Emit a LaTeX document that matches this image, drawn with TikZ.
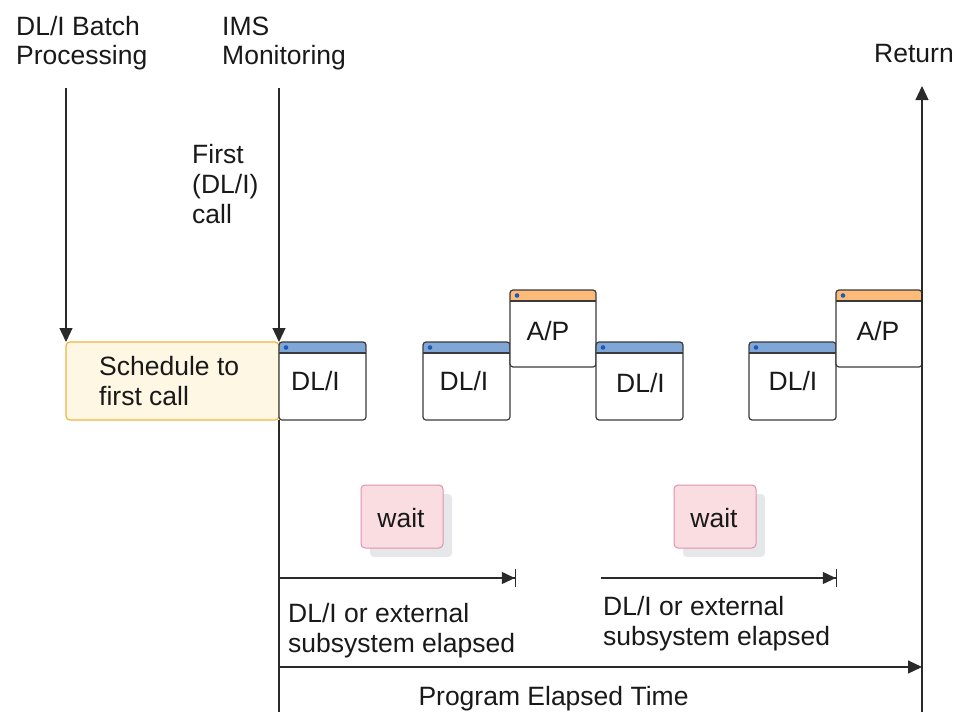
\documentclass[tikz,border=0pt]{standalone}
\usepackage{fontspec}
\setmainfont{Liberation Sans}
\usetikzlibrary{arrows.meta,shadows}
\definecolor{linec}{HTML}{2A2A2A}
\definecolor{boxline}{HTML}{3A3A3A}
\definecolor{hdrblue}{HTML}{7FA6D6}
\definecolor{hdrorange}{HTML}{FDBB7A}
\definecolor{dotblue}{HTML}{1E5BB8}
\definecolor{schedfill}{HTML}{FEF7E4}
\definecolor{schedline}{HTML}{F0B541}
\definecolor{waitfill}{HTML}{F9DDE1}
\definecolor{waitline}{HTML}{E38FB0}
\definecolor{shadowc}{HTML}{E6E7E9}
\tikzset{
  txt/.style={inner sep=0pt, anchor=base west, font=\fontsize{26.5}{30}\selectfont, text=black!90},
  ctxt/.style={inner sep=0pt, anchor=base, font=\fontsize{26.5}{30}\selectfont, text=black!90},
  win/.style={draw=boxline, line width=1.2pt, fill=white, rounded corners=3pt, inner sep=0pt, outer sep=0pt,
    minimum width=86pt, minimum height=77pt,
    path picture={
      \fill[#1] (path picture bounding box.north west) rectangle ([yshift=-11pt]path picture bounding box.north east);
      \draw[boxline, line width=1.2pt] ([yshift=-11pt]path picture bounding box.north west) -- ([yshift=-11pt]path picture bounding box.north east);
      \fill[dotblue] ([xshift=7pt,yshift=-5.5pt]path picture bounding box.north west) circle (2.3pt);
    }},
  sched/.style={draw=schedline, line width=1.2pt, fill=schedfill, rounded corners=4pt, inner sep=0pt, outer sep=0pt,
    minimum width=213pt, minimum height=78pt},
  waitbox/.style={draw=waitline, line width=1pt, fill=waitfill, rounded corners=4pt, inner sep=0pt, outer sep=0pt,
    minimum width=82pt, minimum height=63pt,
    drop shadow={shadow xshift=9pt, shadow yshift=-9pt, opacity=1, fill=shadowc}},
  conn/.style={draw=linec, line width=1.2pt},
  arr/.style={conn, -{Triangle[length=14pt,width=13pt]}},
  tick/.style={conn, -{Triangle[length=13pt,width=12pt,sep=0pt]Bar[width=18pt,line width=1.2pt]}},
}
\begin{document}
\begin{tikzpicture}[x=1pt,y=-1pt]
\useasboundingbox (0,0) rectangle (958,712);
% column headings
\node[txt] (batch1) at (16,35) {DL/I Batch};
\node[txt] (batch2) at (16,64) {Processing};
\node[txt] (ims1) at (222,35) {IMS};
\node[txt] (ims2) at (222,64) {Monitoring};
\node[txt] (ret) at (874,62) {Return};
\node[txt] (first1) at (192,163) {First};
\node[txt] (first2) at (192,193) {(DL/I)};
\node[txt] (first3) at (192,223) {call};
% boxes
\node[sched] (sch) at (172.5,381) {};
\node[txt] (scht1) at (99,375) {Schedule to};
\node[txt] (scht2) at (99,405) {first call};
\node[win=hdrblue, minimum width=87pt, minimum height=78pt] (d1) at (322.5,381) {};
\node[win=hdrblue, minimum width=87pt, minimum height=78pt] (d2) at (466.5,381) {};
\node[win=hdrorange] (ap1) at (553,328.5) {};
\node[win=hdrblue, minimum width=87pt, minimum height=78pt] (d3) at (639.5,381) {};
\node[win=hdrblue, minimum width=87pt, minimum height=78pt] (d4) at (792.5,381) {};
\node[win=hdrorange] (ap2) at (879,328.5) {};
\node[ctxt] (d1t) at (315.5,390) {DL/I};
\node[ctxt] (d2t) at (464,390) {DL/I};
\node[ctxt] (d3t) at (640.5,392.5) {DL/I};
\node[ctxt] (d4t) at (793,390) {DL/I};
\node[ctxt] (ap1t) at (548,340) {A/P};
\node[ctxt] (ap2t) at (878,340) {A/P};
% wait boxes
\node[waitbox] (w1) at (402,516.5) {};
\node[waitbox] (w2) at (715,516.5) {};
\node[ctxt] (w1t) at (401,527) {wait};
\node[ctxt] (w2t) at (714,527) {wait};
% connectors
\coordinate (batchtop) at (66,88);
\coordinate (imstop) at (279,88);
\coordinate (imsbot) at (279,712);
\coordinate (retbot) at (922,712);
\coordinate (rettop) at (922,86);
\draw[arr] (batchtop) -- (sch.north west);
\draw[arr] (imstop) -- (d1.north west);
\draw[conn] (d1.south west) -- (imsbot);
\draw[arr] (retbot) -- (rettop);
\coordinate (e1s) at (279,578);
\coordinate (e1e) at (516,578);
\coordinate (e2s) at (601,578);
\coordinate (e2e) at (837,578);
\coordinate (ps) at (279,667);
\coordinate (pe) at (922,667);
\draw[tick] (e1s) -- (e1e);
\draw[tick] (e2s) -- (e2e);
\draw[arr] (ps) -- (pe);
% bottom labels
\node[txt] (el1a) at (288,622) {DL/I or external};
\node[txt] (el1b) at (288,652) {subsystem elapsed};
\node[txt] (el2a) at (603,615) {DL/I or external};
\node[txt] (el2b) at (603,645) {subsystem elapsed};
\node[ctxt] (prog) at (553.5,705) {Program Elapsed Time};
\end{tikzpicture}
\end{document}
